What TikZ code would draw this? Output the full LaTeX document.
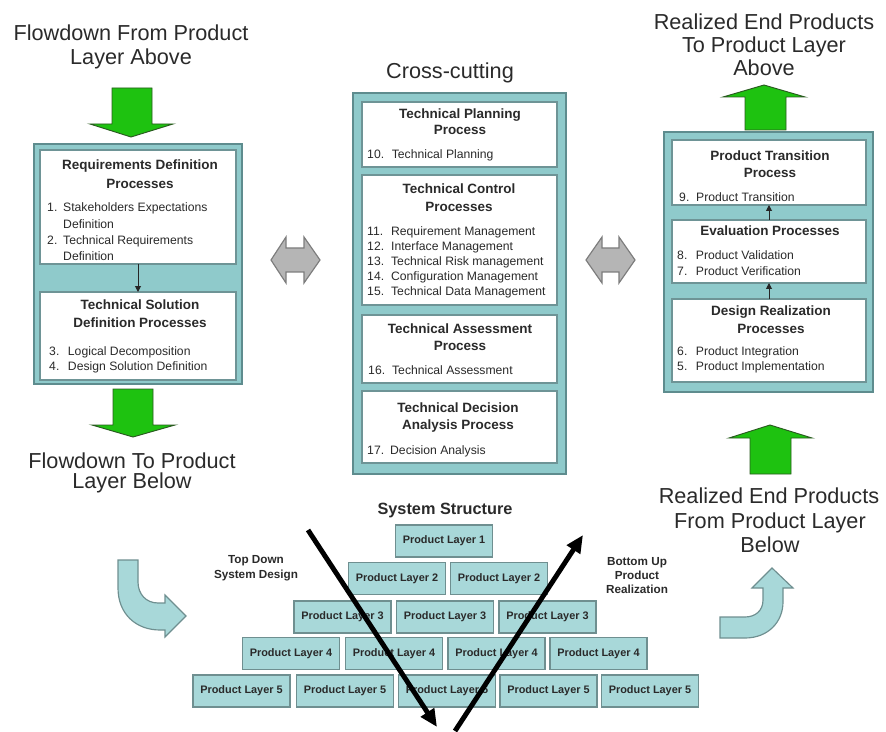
\documentclass[tikz,border=0pt]{standalone}
\usepackage{fontspec}
\setmainfont{Liberation Sans}
\usetikzlibrary{arrows.meta}
\definecolor{tealfill}{HTML}{8FCACB}
\definecolor{tealdraw}{HTML}{5E8C8E}
\definecolor{innerdraw}{HTML}{6E9496}
\definecolor{layerfill}{HTML}{A8D8D9}
\definecolor{layerdraw}{HTML}{6F8F90}
\definecolor{grnfill}{HTML}{1EC210}
\definecolor{grndraw}{HTML}{2A5A20}
\definecolor{gryfill}{HTML}{B5B5B5}
\definecolor{grydraw}{HTML}{7D7D7D}
\definecolor{txtc}{HTML}{2A2A2A}
\tikzset{
 outerbox/.style={draw=tealdraw, fill=tealfill, line width=1.3pt, inner sep=0, outer sep=0},
 innerbox/.style={draw=innerdraw, fill=white, line width=1pt, inner sep=0, outer sep=0},
 layerbox/.style={draw=layerdraw, fill=layerfill, line width=0.9pt, minimum width=2.91cm, minimum height=0.96cm, inner sep=0, outer sep=0, font=\fontsize{9.3}{11}\selectfont\bfseries, text=txtc},
 bigtxt/.style={font=\fontsize{18.5}{22}\selectfont, text=txtc, inner sep=0, text height=0.72em, text depth=0.2em},
 hdtxt/.style={font=\fontsize{11.5}{13}\selectfont\bfseries, text=txtc, inner sep=0, text height=0.72em, text depth=0.2em},
 itmtxt/.style={font=\fontsize{10.4}{12}\selectfont, text=txtc, inner sep=0, text height=0.72em, text depth=0.2em, anchor=west},
 smltxt/.style={font=\fontsize{10}{12}\selectfont\bfseries, text=txtc, inner sep=0, text height=0.72em, text depth=0.2em},
 sstxt/.style={font=\fontsize{13.9}{16}\selectfont\bfseries, text=txtc, inner sep=0, text height=0.72em, text depth=0.2em},
 grnarrow/.style={fill=grnfill, draw=grndraw, line width=0.8pt, line join=miter},
 gryarrow/.style={fill=gryfill, draw=grydraw, line width=1pt, line join=miter},
 bluearrow/.style={fill=layerfill, draw=layerdraw, line width=1pt, line join=miter},
 smallarr/.style={-{Triangle[length=5pt,width=5pt]}, line width=0.8pt, draw=black!85},
 bigarr/.style={-{Triangle[length=15pt,width=13pt]}, line width=4.2pt, draw=black},
}
\newcommand{\pxbox}[6]{\node[#6, minimum width={0.03cm*(#4-#2)}, minimum height={0.03cm*(#5-#3)}] (#1) at ({(#2+#4)/2},{(#3+#5)/2}) {};}
\newcommand{\itmn}[3]{\makebox[#1pt][l]{#2}#3}
\begin{document}
\begin{tikzpicture}[x=0.03cm, y=-0.03cm]
\useasboundingbox (0,0) rectangle (886,732);

% ---------- left column ----------
\node[bigtxt] (fl1) at (131,37) {Flowdown From Product};
\node[bigtxt] (fl2) at (131,61) {Layer Above};
\draw[grnarrow] (112,88) -- (152,88) -- (152,124) -- (173,124) -- (131,137) -- (90,124) -- (112,124) -- cycle;

\pxbox{lout}{34}{144}{242}{384}{outerbox}
\pxbox{lb1}{40}{150}{236}{264}{innerbox}
\pxbox{lb2}{40}{292}{236}{380}{innerbox}
\draw[smallarr] (lb1) -- (lb2);

\node[hdtxt] (lh1) at (140,166) {Requirements Definition};
\node[hdtxt] (lh2) at (140,185) {Processes};
\node[itmtxt] (li1) at (47,208) {\itmn{13.6}{1.}{Stakeholders Expectations}};
\node[itmtxt] (li2) at (63,225) {Definition};
\node[itmtxt] (li3) at (47,241) {\itmn{13.6}{2.}{Technical Requirements}};
\node[itmtxt] (li4) at (63,257) {Definition};

\node[hdtxt] (lh3) at (140,306) {Technical Solution};
\node[hdtxt] (lh4) at (140,324) {Definition Processes};
\node[itmtxt] (li5) at (49,352) {\itmn{16}{3.}{Logical Decomposition}};
\node[itmtxt] (li6) at (49,367) {\itmn{16}{4.}{Design Solution Definition}};

\draw[grnarrow] (113,389) -- (153,389) -- (153,425) -- (175,425) -- (133,437) -- (92,425) -- (113,425) -- cycle;
\node[bigtxt] (fl3) at (132,465) {Flowdown To Product};
\node[bigtxt] (fl4) at (132,485) {Layer Below};

% ---------- grey double arrows ----------
\draw[gryarrow] (271,260) -- (286,237) -- (286,248) -- (304,248) -- (304,237) -- (320,260) -- (304,283) -- (304,272) -- (286,272) -- (286,283) -- cycle;
\draw[gryarrow] (586,260) -- (602,237) -- (602,248) -- (619,248) -- (619,237) -- (635,260) -- (619,283) -- (619,272) -- (602,272) -- (602,283) -- cycle;

% ---------- middle column ----------
\node[bigtxt] (cc) at (450,75) {Cross-cutting};
\pxbox{mout}{353}{93}{566}{474}{outerbox}
\pxbox{mb1}{362}{102}{557}{167}{innerbox}
\pxbox{mb2}{362}{175}{557}{305}{innerbox}
\pxbox{mb3}{362}{315}{557}{383}{innerbox}
\pxbox{mb4}{362}{391}{557}{463}{innerbox}

\node[hdtxt] (mh1) at (460,115) {Technical Planning};
\node[hdtxt] (mh2) at (460,131) {Process};
\node[itmtxt] (mi1) at (367,155) {\itmn{21}{10.}{Technical Planning}};

\node[hdtxt] (mh3) at (459,190) {Technical Control};
\node[hdtxt] (mh4) at (459,208) {Processes};
\node[itmtxt] (mi2) at (367,232) {\itmn{20.4}{11.}{Requirement Management}};
\node[itmtxt] (mi3) at (367,247) {\itmn{20.4}{12.}{Interface Management}};
\node[itmtxt] (mi4) at (367,262) {\itmn{20.4}{13.}{Technical Risk management}};
\node[itmtxt] (mi5) at (367,277) {\itmn{20.4}{14.}{Configuration Management}};
\node[itmtxt] (mi6) at (367,292) {\itmn{20.4}{15.}{Technical Data Management}};

\node[hdtxt] (mh5) at (460,330) {Technical Assessment};
\node[hdtxt] (mh6) at (460,347) {Process};
\node[itmtxt] (mi7) at (368,371) {\itmn{20.4}{16.}{Technical Assessment}};

\node[hdtxt] (mh7) at (458,409) {Technical Decision};
\node[hdtxt] (mh8) at (458,426) {Analysis Process};
\node[itmtxt] (mi8) at (367,451) {\itmn{19.6}{17.}{Decision Analysis}};

% ---------- right column ----------
\node[bigtxt] (rt1) at (764,26) {Realized End Products};
\node[bigtxt] (rt2) at (764,49) {To Product Layer};
\node[bigtxt] (rt3) at (764,72) {Above};
\draw[grnarrow] (745,130) -- (786,130) -- (786,97) -- (805,97) -- (764,85) -- (723,97) -- (745,97) -- cycle;

\pxbox{rout}{664}{132}{873}{392}{outerbox}
\pxbox{rb1}{672}{140}{866}{205}{innerbox}
\pxbox{rb2}{672}{220}{866}{283}{innerbox}
\pxbox{rb3}{672}{299}{866}{382}{innerbox}
\draw[smallarr] (rb2) -- (rb1);
\draw[smallarr] (rb3) -- (rb2);

\node[hdtxt] (rh1) at (770,157) {Product Transition};
\node[hdtxt] (rh2) at (770,174) {Process};
\node[itmtxt] (ri1) at (679,198) {\itmn{14.5}{9.}{Product Transition}};
\node[hdtxt] (rh3) at (770,232) {Evaluation Processes};
\node[itmtxt] (ri2) at (677,256) {\itmn{16}{8.}{Product Validation}};
\node[itmtxt] (ri3) at (677,272) {\itmn{16}{7.}{Product Verification}};
\node[hdtxt] (rh4) at (771,312) {Design Realization};
\node[hdtxt] (rh5) at (771,330) {Processes};
\node[itmtxt] (ri4) at (677,352) {\itmn{16}{6.}{Product Integration}};
\node[itmtxt] (ri5) at (677,367) {\itmn{16}{5.}{Product Implementation}};

\draw[grnarrow] (750,474) -- (791,474) -- (791,438) -- (812,438) -- (770,425) -- (729,438) -- (750,438) -- cycle;
\node[bigtxt] (rt4) at (769,500) {Realized End Products};
\node[bigtxt] (rt5) at (770,525) {From Product Layer};
\node[bigtxt] (rt6) at (770,549) {Below};

% ---------- curved arrows ----------
\draw[bluearrow] (118,560) -- (118,588) .. controls (118,614) and (136,630) .. (160,630) -- (165,630) -- (165,637) -- (186,616) -- (165,595) -- (165,603) -- (158,603) .. controls (146,603) and (138,594) .. (138,582) -- (138,560) -- cycle;
\draw[bluearrow] (720,638) -- (745,638) .. controls (768,638) and (783,622) .. (783,602) -- (783,588) -- (793,588) -- (772,568) -- (752,588) -- (763,588) -- (763,600) .. controls (763,611) and (755,617) .. (745,617) -- (720,617) -- cycle;

% ---------- system structure ----------
\node[sstxt] (ss) at (445,511) {System Structure};
\node[smltxt] (td1) at (256,560) {Top Down};
\node[smltxt] (td2) at (256,575) {System Design};
\node[smltxt] (bu1) at (637,562) {Bottom Up};
\node[smltxt] (bu2) at (637,576) {Product};
\node[smltxt] (bu3) at (637,590) {Realization};

\node[layerbox] (p11) at (444,541) {Product Layer 1};
\node[layerbox] (p21) at (397,578.5) {Product Layer 2};
\node[layerbox] (p22) at (499,578.5) {Product Layer 2};
\node[layerbox] (p31) at (342.5,617) {Product Layer 3};
\node[layerbox] (p32) at (445,617) {Product Layer 3};
\node[layerbox] (p33) at (547.5,617) {Product Layer 3};
\node[layerbox] (p41) at (291,653.5) {Product Layer 4};
\node[layerbox] (p42) at (394,653.5) {Product Layer 4};
\node[layerbox] (p43) at (496.5,653.5) {Product Layer 4};
\node[layerbox] (p44) at (598.5,653.5) {Product Layer 4};
\node[layerbox] (p51) at (241.5,691) {Product Layer 5};
\node[layerbox] (p52) at (345,691) {Product Layer 5};
\node[layerbox] (p53) at (447,691) {Product Layer 5};
\node[layerbox] (p54) at (548.5,691) {Product Layer 5};
\node[layerbox] (p55) at (650,691) {Product Layer 5};

\coordinate (dA) at (308,530);
\coordinate (dB) at (437,727);
\coordinate (uA) at (455,731);
\coordinate (uB) at (583,535);
\draw[bigarr] (dA) -- (dB);
\draw[bigarr] (uA) -- (uB);
\end{tikzpicture}
\end{document}
